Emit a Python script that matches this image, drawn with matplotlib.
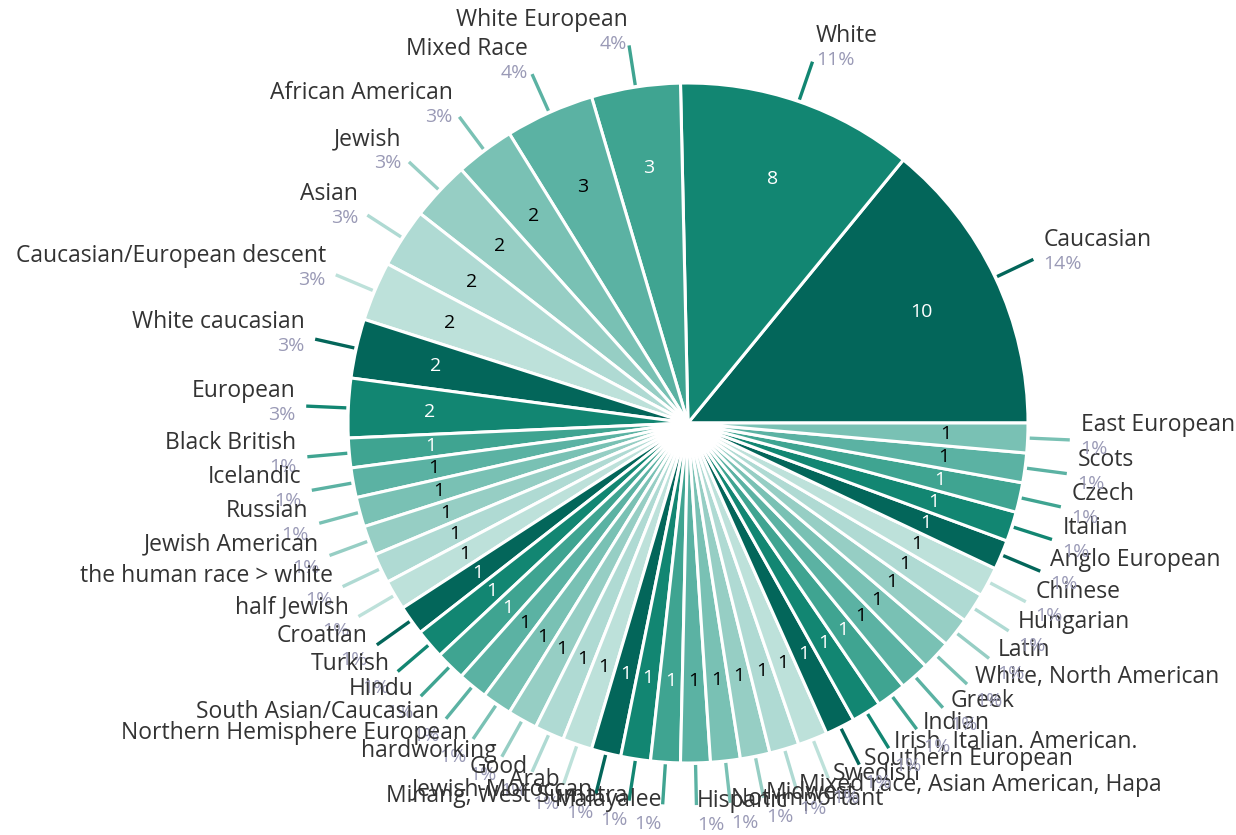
import numpy as np
import matplotlib.pyplot as plt

# self-described ethnicity, counts of answers
labels = [
    "Caucasian", "White", "White European", "Mixed Race", "African American",
    "Jewish", "Asian", "Caucasian/European descent", "White caucasian", "European",
    "Black British", "Icelandic", "Russian", "Jewish American",
    "the human race > white", "half Jewish", "Croatian", "Turkish", "Hindu",
    "South Asian/Caucasian", "Northern Hemisphere European", "hardworking", "Good",
    "Arab", "Jewish-Moroccan", "Minang, West Sumatra", "Malayalee", "Hispanic",
    "Not important", "Midwest", "Mixed race, Asian American, Hapa", "Swedish",
    "Southern European", "Irish, Italian. American.", "Indian", "Greek",
    "White, North American", "Latin", "Hungarian", "Chinese", "Anglo European",
    "Italian", "Czech", "Scots", "East European",
]
counts = [
    10, 8, 3, 3, 2, 2, 2, 2, 2, 2,
    1, 1, 1, 1, 1, 1, 1, 1, 1, 1,
    1, 1, 1, 1, 1, 1, 1, 1, 1, 1,
    1, 1, 1, 1, 1, 1, 1, 1, 1, 1,
    1, 1, 1, 1, 1,
]

palette = ["#03665a", "#128672", "#3fa491", "#5bb2a3",
           "#79c1b4", "#96cec4", "#afdad3", "#bde1da"]
colors = [palette[i % len(palette)] for i in range(len(counts))]

plt.rcParams['font.family'] = ['Open Sans', 'DejaVu Sans']

W, H = 1236, 835
cx, cy, R = 688, 412, 340

fig = plt.figure(figsize=(W / 100, H / 100), dpi=100)
ax = fig.add_axes([0, 0, 1, 1])

wedges, _ = ax.pie(counts, colors=colors, startangle=0, counterclock=True,
                   radius=R, center=(cx, cy),
                   wedgeprops=dict(edgecolor="white", linewidth=2.2))
ax.set_xlim(0, W)
ax.set_ylim(0, H)
ax.axis("off")

total = sum(counts)
for i, (w, n, name) in enumerate(zip(wedges, counts, labels)):
    theta = np.deg2rad((w.theta1 + w.theta2) / 2)
    c, s = np.cos(theta), np.sin(theta)

    # value inside the slice
    txt_col = "white" if i % len(palette) < 3 else "black"
    ax.text(cx + 0.76 * R * c, cy + 0.76 * R * s, str(n), ha="center",
            va="center", color=txt_col, fontsize=14)

    # leader line
    ax.plot([cx + 1.006 * R * c, cx + 1.124 * R * c],
            [cy + 1.006 * R * s, cy + 1.124 * R * s],
            color=colors[i], lw=2.4, solid_capstyle="butt")

    # name and share outside
    lx, ly = cx + 1.156 * R * c, cy + 1.156 * R * s
    ha = "left" if c >= 0 else "right"
    pct = f"{round(100 * n / total)}%"
    ax.text(lx, ly - 9, pct, ha=ha, va="center", color="#9a9ab6", fontsize=14)
    ax.text(lx, ly + 15, name, ha=ha, va="center", color="#333333", fontsize=16.5)

fig.savefig("out.png", dpi=100)
